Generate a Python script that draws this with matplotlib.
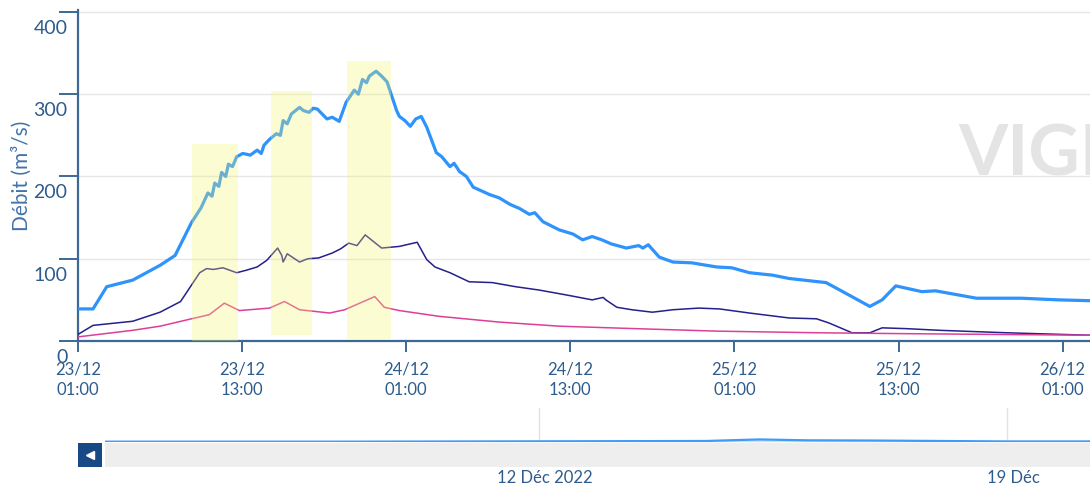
import matplotlib
matplotlib.use("Agg")
import matplotlib.pyplot as plt
from matplotlib.transforms import ScaledTranslation

plt.rcParams['font.family'] = ['Lato', 'DejaVu Sans']

# heures depuis le 23/12 01:00
hours_blue = [0, 1.1, 2.1, 4.0, 6.0, 7.1, 8.3, 9.0, 9.5, 9.8, 10.0, 10.3, 10.5, 10.8, 11.0, 11.3, 11.6,
              12.05, 12.6, 13.1, 13.4, 13.6, 14.0, 14.5, 14.8, 15.0, 15.3, 15.6, 16.2, 16.5, 16.9,
              17.2, 17.5, 18.2, 18.6, 19.1, 19.6, 20.2, 20.5, 20.8, 21.1, 21.3, 21.8, 22.2,
              22.6, 23.3, 23.5, 23.9, 24.3, 24.7, 25.1, 25.5, 26.2, 26.6, 27.2, 27.5, 27.9, 28.4,
              28.9, 30.1, 30.8, 31.6, 32.3, 33.0, 33.4, 34.0, 35.2, 36.2, 36.9, 37.6, 38.3, 39.0,
              40.1, 41.0, 41.3, 41.7, 42.5, 43.5, 44.9, 45.6, 46.7, 47.8, 49.1, 50.8, 52.0, 54.7,
              55.7, 57.9, 58.8, 59.8, 61.7, 62.7, 65.7, 69.0, 71.7, 74.0]
debit_blue = [39, 39, 66, 74, 92, 104, 144, 162, 180, 176, 192, 188, 205, 200, 215, 212, 224,
              228, 226, 232, 228, 238, 245, 252, 250, 268, 264, 276, 284, 280, 278,
              283, 282, 270, 272, 267, 290, 305, 300, 318, 314, 322, 328, 322,
              315, 280, 273, 268, 261, 270, 273, 260, 229, 224, 212, 216, 206, 200,
              187, 178, 174, 166, 161, 154, 156, 145, 135, 130, 123, 127, 123, 118,
              113, 116, 113, 117, 102, 96, 95, 93, 90, 89, 83, 80, 76, 71,
              62, 42, 50, 67, 60, 61, 52, 52, 50, 49]

hours_navy = [0, 1.1, 4.0, 6.0, 7.5, 8.9, 9.4, 9.9, 10.6, 11.6, 12.3, 13.1, 13.8, 14.6, 14.9, 15.0,
              15.3, 16.2, 16.8, 17.6, 18.6, 19.2, 19.8, 20.4, 21.0, 21.6, 22.2, 23.5, 24.8, 25.5,
              26.1, 27.2, 28.6, 30.3, 32.0, 33.7, 35.7, 37.6, 38.4, 38.6, 39.4, 40.5,
              42.0, 43.5, 45.4, 46.9, 49.1, 52.0, 54.0, 54.9, 56.6, 57.9, 58.8, 60.6, 63.0, 67.9, 74.0]
debit_navy = [8, 19, 24, 35, 48, 83, 88, 87, 89, 83, 86, 90, 98, 113, 104, 96,
              106, 96, 100, 101, 107, 112, 119, 116, 129, 121, 113, 115, 120, 99,
              90, 83, 72, 71, 66, 62, 56, 50, 53, 50, 41, 38,
              35, 38, 40, 39, 34, 28, 27, 22, 10, 10, 16, 15, 13, 10, 7]

hours_pink = [0, 4.0, 6.0, 8.3, 9.6, 10.7, 11.8, 14.0, 15.1, 16.2, 18.4, 19.5, 21.7, 22.4, 23.5,
              26.4, 30.8, 35.2, 40.8, 46.7, 54.1, 60.0, 74.0]
debit_pink = [5, 13, 18, 27, 32, 46, 37, 40, 48, 38, 34, 38, 54, 41, 37,
              30, 23, 18, 15, 12, 10, 9, 7]

# zones surlignées : début, fin (h), bas, haut (m3/s)
band_start = [8.3, 14.1, 19.7]
band_end = [11.7, 17.1, 22.9]
band_low = [0, 7, 2]
band_high = [240, 304, 341]

xtick_hours = [0, 12, 24, 36, 48, 60, 72]
xtick_labels = ['23/12\n01:00', '23/12\n13:00', '24/12\n01:00', '24/12\n13:00',
                '25/12\n01:00', '25/12\n13:00', '26/12\n01:00']
yticks = [0, 100, 200, 300, 400]

# navigateur (jours de décembre)
nav_days = [5.5, 9.0, 12.0, 14.5, 15.3, 16.0, 17.0, 18.0, 19.0, 20.3]
nav_values = [0, 0, 0.3, 0.6, 2.0, 1.2, 1.0, 0.6, 0.2, 0.2]
nav_marks = [12, 19]
nav_labels = ['12 Déc 2022', '19 Déc']

axis_col = '#3d6896'
text_col = '#2e5c8c'

W, H = 1090, 488
fig = plt.figure(figsize=(W / 100, H / 100), dpi=100)
ax = fig.add_axes([78 / W, (H - 341) / H, (1090 - 78) / W, (341 - 10) / H])

ax.plot(hours_blue, debit_blue, color='#2e93fb', lw=2.3, zorder=3)
ax.plot(hours_navy, debit_navy, color='#25208a', lw=1.1, zorder=3)
ax.plot(hours_pink, debit_pink, color='#dd3f98', lw=1.1, zorder=3)

for x0, x1, y0, y1 in zip(band_start, band_end, band_low, band_high):
    ax.fill_between([x0, x1], [y0, y0], [y1, y1], color='#f6f670', alpha=0.3, lw=0, zorder=4)

ax.set_xlim(0, 74)
ax.set_ylim(0, 402.4)
ax.set_yticks(yticks)
ax.set_xticks(xtick_hours)
ax.set_xticklabels(xtick_labels, linespacing=1.35)
ax.grid(axis='y', color='#e6e6e6', lw=1, zorder=0)

for s in ['top', 'right']:
    ax.spines[s].set_visible(False)
for s in ['left', 'bottom']:
    ax.spines[s].set_color(axis_col)
    ax.spines[s].set_linewidth(1.6)

ax.tick_params(axis='y', direction='out', length=14, width=1.4, color=axis_col,
               labelcolor=text_col, labelsize=14, pad=-6.5)
ax.tick_params(axis='x', direction='out', length=8, width=1.4, color=axis_col,
               labelcolor=text_col, labelsize=12, pad=6.5)
for lab in ax.get_yticklabels():
    lab.set_transform(lab.get_transform() + ScaledTranslation(0, -0.15, fig.dpi_scale_trans))

fig.text(22 / W, (H - 176) / H, 'Débit (m³/s)', rotation=90, color='#4274aa',
         fontsize=15, ha='center', va='center')

# filigrane
fig.text(958 / W, (H - 155) / H, 'VIGIC', color='#e4e4e4', fontsize=51,
         fontweight='bold', ha='left', va='center', zorder=0)

# navigateur
nav = fig.add_axes([105 / W, (H - 442) / H, (1090 - 105) / W, (442 - 408) / H])
nav.plot(nav_days, nav_values, color='#3f9bf5', lw=1.6)
nav.fill_between(nav_days, nav_values, 0, color='#3f9bf5', alpha=0.3, lw=0)
for d in nav_marks:
    nav.axvline(d, color='#e2e2e2', lw=1, zorder=0)
nav.set_xlim(5.51, 20.24)
nav.set_ylim(-0.3, 30)
nav.axis('off')

bar = fig.add_axes([105 / W, (H - 467) / H, (1090 - 105) / W, (467 - 443) / H])
bar.set_facecolor('#eeeeee')
bar.set_xticks([])
bar.set_yticks([])
for s in bar.spines.values():
    s.set_visible(False)

btn = fig.add_axes([78 / W, (H - 467) / H, 24 / W, 24 / H])
btn.set_facecolor('#174a85')
btn.set_xticks([])
btn.set_yticks([])
for s in btn.spines.values():
    s.set_visible(False)
btn.plot([0.5], [0.5], marker='<', color='white', ms=6)
btn.set_xlim(0, 1)
btn.set_ylim(0, 1)

for d, t in zip(nav_marks, nav_labels):
    xf = 105 / W + (d - 5.51) / (20.24 - 5.51) * (1090 - 105) / W
    fig.text(xf + 6 / W, (H - 478) / H, t, color=text_col, fontsize=12,
             ha='center', va='center')

fig.savefig('out.png', dpi=100)
